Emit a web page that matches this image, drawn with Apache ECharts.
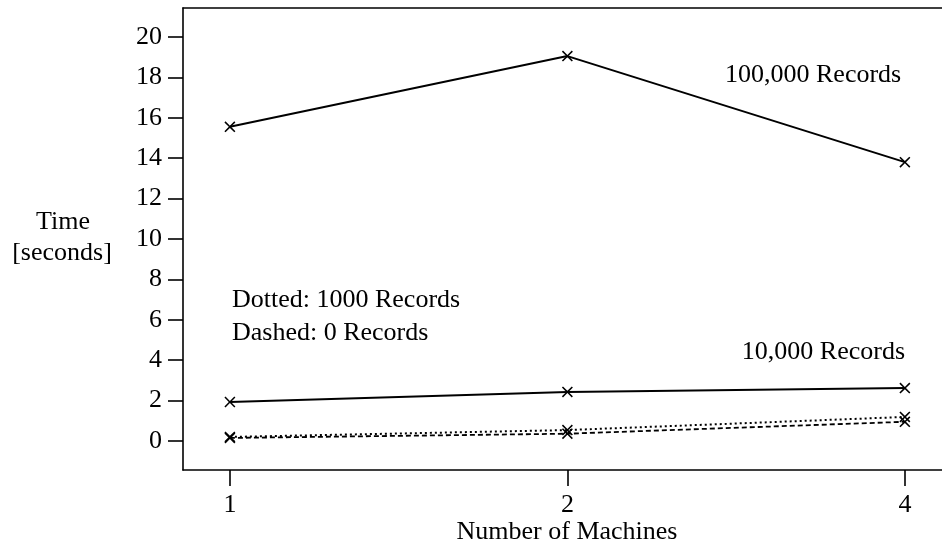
<!DOCTYPE html>
<html>
<head>
<meta charset="utf-8">
<script src="https://cdn.jsdelivr.net/npm/echarts@6/dist/echarts.min.js"></script>
<style>
html,body{margin:0;padding:0;background:#fff;}
#chart{width:942px;height:544px;}
</style>
</head>
<body>
<div id="chart"></div>
<script>
const machines = ['1', '2', '4'];
const rec100000 = [15.55, 19.05, 13.8];
const rec10000 = [1.93, 2.43, 2.62];
const rec1000 = [0.2, 0.54, 1.19];
const rec0 = [0.15, 0.36, 0.95];
const yTicks = [0, 2, 4, 6, 8, 10, 12, 14, 16, 18, 20];

const FONT = '"Liberation Serif", "Times New Roman", serif';
const crossPath = 'path://M0,1 L1,0 L5,4 L9,0 L10,1 L6,5 L10,9 L9,10 L5,6 L1,10 L0,9 L4,5 Z';

function pts(vals) { return vals.map((v, i) => [i, v]); }

function series(name, vals, lineType, width) {
  return {
    name: name,
    type: 'line',
    data: pts(vals),
    symbol: crossPath,
    symbolSize: 11,
    itemStyle: { color: '#000' },
    lineStyle: { color: '#000', width: width, type: lineType },
    silent: true,
    animation: false
  };
}

const chart = echarts.init(document.getElementById('chart'), null, { renderer: 'canvas' });
const xMin = -0.139, xMax = 2.110;
chart.setOption({
  backgroundColor: '#fff',
  animation: false,
  grid: { left: 183, right: 0, top: 8, bottom: 74, containLabel: false },
  xAxis: [{
    type: 'value', min: xMin, max: xMax, position: 'bottom',
    axisLine: { show: true, onZero: false, lineStyle: { color: '#000', width: 1.6 } },
    axisTick: { show: true, inside: false, length: 16, lineStyle: { color: '#000', width: 1.6 }, customValues: [0, 1, 2] },
    axisLabel: { show: true, margin: 22, color: '#000', fontFamily: FONT, fontSize: 26,
      customValues: [0, 1, 2], formatter: v => machines[Math.round(v)] },
    splitLine: { show: false }
  }, {
    type: 'value', min: xMin, max: xMax, position: 'top',
    axisLine: { show: true, onZero: false, lineStyle: { color: '#000', width: 1.6 } },
    axisTick: { show: false }, axisLabel: { show: false }, splitLine: { show: false }
  }],
  yAxis: {
    type: 'value', min: -1.436, max: 21.43,
    axisLine: { show: true, onZero: false, lineStyle: { color: '#000', width: 1.6 } },
    axisTick: { show: true, length: 15, lineStyle: { color: '#000', width: 1.6 }, customValues: yTicks },
    axisLabel: { show: true, margin: 21, color: '#000', fontFamily: FONT, fontSize: 26,
      customValues: yTicks, formatter: v => String(Math.round(v)) },
    splitLine: { show: false }
  },
  series: [
    series('100,000 Records', rec100000, 'solid', 2),
    series('10,000 Records', rec10000, 'solid', 2),
    series('1000 Records', rec1000, [2, 3], 2),
    series('0 Records', rec0, [5, 3], 1.8)
  ],
  graphic: [
    { type: 'text', x: 725, y: 75, style: { text: '100,000 Records', font: '26px ' + FONT, fill: '#000', textAlign: 'left', textVerticalAlign: 'middle' }, silent: true },
    { type: 'text', x: 905, y: 352, style: { text: '10,000 Records', font: '26px ' + FONT, fill: '#000', textAlign: 'right', textVerticalAlign: 'middle' }, silent: true },
    { type: 'text', x: 232, y: 300, style: { text: 'Dotted: 1000 Records', font: '26px ' + FONT, fill: '#000', textAlign: 'left', textVerticalAlign: 'middle' }, silent: true },
    { type: 'text', x: 232, y: 333, style: { text: 'Dashed: 0 Records', font: '26px ' + FONT, fill: '#000', textAlign: 'left', textVerticalAlign: 'middle' }, silent: true },
    { type: 'text', x: 63, y: 222, style: { text: 'Time', font: '26px ' + FONT, fill: '#000', textAlign: 'center', textVerticalAlign: 'middle' }, silent: true },
    { type: 'text', x: 62, y: 253, style: { text: '[seconds]', font: '26px ' + FONT, fill: '#000', textAlign: 'center', textVerticalAlign: 'middle' }, silent: true },
    { type: 'text', x: 567, y: 532, style: { text: 'Number of Machines', font: '26px ' + FONT, fill: '#000', textAlign: 'center', textVerticalAlign: 'middle' }, silent: true }
  ]
});
</script>
</body>
</html>
